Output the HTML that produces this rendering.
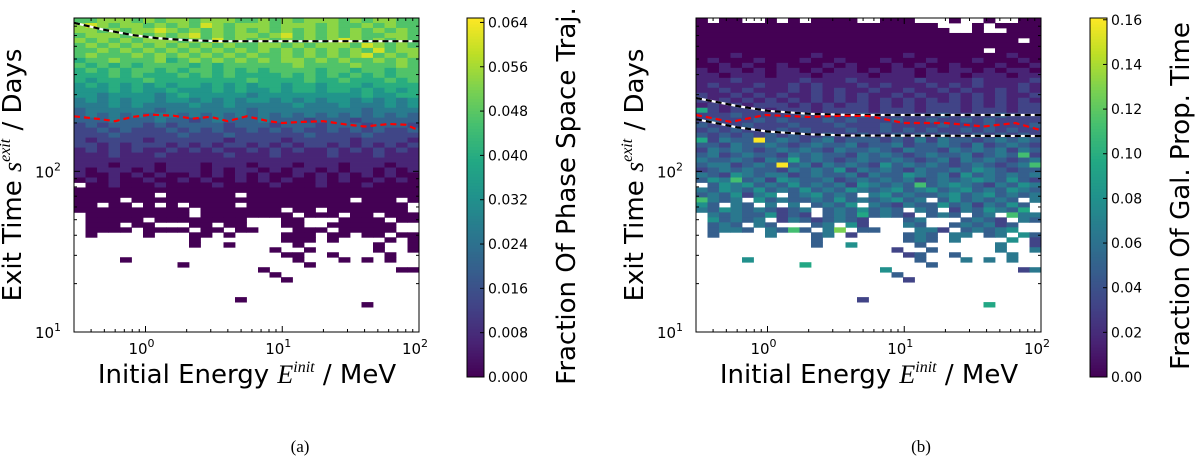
<!DOCTYPE html>
<html><head><meta charset="utf-8">
<style>
html,body{margin:0;padding:0;background:#fff;}
svg{display:block;font-family:"DejaVu Sans","Liberation Sans",sans-serif;}
</style></head>
<body>
<svg id="fig" width="1200" height="461" viewBox="0 0 1200 461" xmlns="http://www.w3.org/2000/svg"></svg>
<script>
// ---------- data ----------
const xTickValues = [1, 10, 100];
const xTickExps = ["0", "1", "2"];
const yTickValues = [10, 100];
const yTickExps = ["1", "2"];
const cbTicksLeft = [0.000, 0.008, 0.016, 0.024, 0.032, 0.040, 0.048, 0.056, 0.064];
const cbLabelsLeft = ["0.000","0.008","0.016","0.024","0.032","0.040","0.048","0.056","0.064"];
const cbTicksRight = [0.00, 0.02, 0.04, 0.06, 0.08, 0.10, 0.12, 0.14, 0.16];
const cbLabelsRight = ["0.00","0.02","0.04","0.06","0.08","0.10","0.12","0.14","0.16"];
// heatmap rows, top (high exit time) to bottom; each char a level, '.' = empty
const leftRows = [
"778887878878887787878887878877","898788787879878887888787787877","887878898787878787878787878787",
"788878787897878878978787877887","878787888787978787878789878787","787878787878787788787888798787",
"778787878787878787878787879788","787778787878787877878787897878","677877786787878787887878778787",
"767676777767677777787777877787","676767767677676767777677677677","666767666767676666767676767677",
"656666766666666766667667666767","565656565665656566566566656666","555656556555656556566566565656",
"554555545655555455555555565566","454545545545454554545455454545","444545444454454444454445444545",
"344444434444444344444444434444","343434344343434343434343434343","333433343323433343332333233333",
"232333232333323332333233323332","223232223232322323232232323223","222322222322232222223222232222",
"212222122222212222122222122221","221212221212122121212212121212","121212112121211212121121212121",
"111211121111121112111121112111","111111111111111111111111111111","111011101110111011101110111011",
"101110101110101101011010110101","100101010010101010010101010100","010100100101001010100101001010",
".00100010000100001000100010000","000000000000000000000000000000","0000000.000000.000000000000000",
"0000.0000000000000000000.000.0","00.00.0.0.0000.00000000000000.","0000000000.0000000.00.0000000.",
".000000000.00000000.000.00.000",".00000.00000000...00...0000.00",".000.00...00.00...00..000000..",
".0000.0000.00.00...000.00000..",".0....0...00.0....000.00.00.00","..........0.......000.0....0.0",
"..........0..0.....0......0..0",".................0..0.....0..0","..................00..0....0..",
"....0..............0...0.0.0..",".........0..........0.........","................0...........00",
".................0............","..................0...........","..............................",
"..............................","..............................","..............0...............",
".........................0....","..............................","..............................",
"..............................","..............................",".............................."
];
const rightRows = [
"0.00..0.0.0000..000...0..0..00","000000000000000000000...0.0000","0000000000000000000000..0..000",
"000000000000000000000000000000","0000000000000000000000000000.0","000000000000000000000000000000",
"0000000000000000000000000.0000","000100000010000000100000000100","010001000100100010001000100010",
"001010010001010001010010001001","101101011010110101101011010110","110111011101111011101110111011",
"111211111211121111121111211112","121112112121112121112121211121","112121112121211211211212112121",
"211212121121212112121121212112","21212 12121 21212 12121 21212 12121","12121 22212 12122 12121 22212 12122",
"62122 21222 12222 12221 22212 22122","22232 22223 22223 22222 23222 23222","23222 32322 23232 22322 32232 32222",
"32223 22232 22322 23222 23222 32223","23232 22323 22232 23232 32232 32322","32323 23232 23223 22323 23223 23232",
"62433 a3432 34233 32324 24332 34343","33243 34323 43342 33423 34324 23432","24343 23434 32433 43243 32434 34243",
"34234 33243 43324 34323 43342 34372","43343 24363 43234 33432 34243 43234","34423 43a34 24343 25343 43234 32347",
"23434 33243 43524 34324 33435 43233","43254 34423 43342 43354 34253 43434","35473 42543 34234 34342 34345 43532",
".3545 34353 43425 43437 34543 24354","43543 53435 34354 34534 53453 43543","34352 45.34 5343. 45343 34534 53434",
"7434. 53433 43534 34534 .3534 343.4","53.43 .4.4. 3435. 43243 35342 4353.","43543 43234 .3435 343.4 3.243 5436.",
".4343 35232 .3436 3432. 343.3 4.744",".5343 4.243 23432 ...34 ...34 32.43",".343. 43... 34.52 ...43 ..343 423..",
".3443 .4373 .48.3 3...4 42.34 345..",".3... .4... 34.2. ...34 3.44. 34.53","..........3.......343.4....5.2",
"..........3..5.....3......4..2",".................2..3.....4..4","..................23..3....4..",
"....5..............3...4.4.4..",".........6..........3.........","................5...........24",
".................3............","..................2...........","..............................",
"..............................","..............................","..............2...............",
".........................6....","..............................","..............................",
"..............................","..............................",".............................."
];
const leftLevelStep = 0.0067;   // value per level, panel (a)
const rightLevelStep = 0.016;   // value per level, panel (b)
// curves: energies (MeV) and exit times (days)
const aBlackE = [0.3, 0.5, 0.8, 1.2, 2, 3.5, 10, 100];
const aBlackD = [840, 760, 705, 675, 655, 645, 645, 645];
const aRedE = [0.3, 0.45, 0.6, 0.8, 1.1, 1.6, 2.2, 3, 4, 5.5, 8, 10, 14, 20, 30, 40, 60, 80, 100];
const aRedD = [220, 212, 205, 218, 225, 222, 213, 218, 205, 220, 205, 200, 203, 205, 195, 190, 197, 195, 180];
const bUpperE = [0.3, 0.6, 1, 2, 4, 100];
const bUpperD = [286, 255, 238, 228, 224, 224];
const bLowerE = [0.3, 0.6, 1, 2, 4, 100];
const bLowerD = [211, 188, 177, 170, 167, 166];
const bRedE = [0.3, 0.54, 0.96, 2, 3.5, 5.5, 9.9, 20, 38, 65, 100];
const bRedD = [224, 203, 224, 218, 222, 221, 200, 200, 190, 200, 180];

// ---------- helpers ----------
const NS = "http://www.w3.org/2000/svg";
const svg = document.getElementById("fig");
function mk(tag, attrs, parent) {
  const e = document.createElementNS(NS, tag);
  for (const k in attrs) e.setAttribute(k, attrs[k]);
  (parent || svg).appendChild(e);
  return e;
}
const VIR = ["#440154","#482475","#414487","#355f8d","#2a788e","#21918c","#22a884","#44bf70","#7ad151","#bddf26","#fde725"];
function hex(h){return [parseInt(h.slice(1,3),16),parseInt(h.slice(3,5),16),parseInt(h.slice(5,7),16)];}
function viridis(t){
  t = Math.max(0, Math.min(1, t));
  const p = t * 10, i = Math.min(9, Math.floor(p)), f = p - i;
  const a = hex(VIR[i]), b = hex(VIR[i+1]);
  return "rgb(" + a.map((v,k)=>Math.round(v + (b[k]-v)*f)).join(",") + ")";
}
const E0 = Math.log10(0.3), E1 = 2, D0 = 1, D1 = Math.log10(900);
const PT = 18, PB = 332, PW = 345;
function xs(x0){ return E => x0 + (Math.log10(E) - E0) / (E1 - E0) * PW; }
function ys(D){ return PB - (Math.log10(D) - D0) / (D1 - D0) * (PB - PT); }

function panel(x0, rows, step, vmax, cbx, cbTicks, cbLabels, cbTitle, cbTitleOff, tag, curves, capX) {
  const xsc = xs(x0);
  const g = mk("g", {});
  
  
  const hm = mk("g", {}, g);
  
  
  const nR = rows.length;
  const lb = (D1 - D0) / nR;
  rows.forEach((rs, r) => {
    const s = rs.replace(/ /g, "");
    const nC = 30, lw = (E1 - E0) / nC;
    for (let c = 0; c < nC; c++) {
      const ch = s[c];
      if (!ch || ch === ".") continue;
      const lvl = ch === "a" ? 10 : parseInt(ch, 10);
      const v = lvl * step;
      const xa = xsc(Math.pow(10, E0 + c * lw)), xb = xsc(Math.pow(10, E0 + (c + 1) * lw));
      const ya = ys(Math.pow(10, D1 - r * lb)), yb = ys(Math.pow(10, D1 - (r + 1) * lb));
      const rect = mk("rect", {x: xa, y: ya, width: xb - xa + 0.4, height: yb - ya + 0.4, fill: viridis(v / vmax)}, hm);
      
      
    }
  });
  // curves
  curves.forEach(cv => {
    const d = cv.E.map((e, i) => (i ? "L" : "M") + xsc(e).toFixed(1) + "," + ys(cv.D[i]).toFixed(1)).join(" ");
    if (cv.type === "bw") {
      const w = mk("path", {d, fill: "none", stroke: "#fff", "stroke-width": 2.2}, g);
      
      
      const b = mk("path", {d, fill: "none", stroke: "#000", "stroke-width": 2.2, "stroke-dasharray": "6,4"}, g);
      
      
    } else {
      const p = mk("path", {d, fill: "none", stroke: "#f00", "stroke-width": 2.2, "stroke-dasharray": "6,4"}, g);
      
      
    }
  });
  // frame
  const fr = mk("rect", {x: x0, y: PT, width: PW, height: PB - PT, fill: "none", stroke: "#000", "stroke-width": 1}, g);
  
  
  // x ticks
  for (let dec = -1; dec <= 1; dec++) {
    for (let m = 1; m <= 9; m++) {
      const E = m * Math.pow(10, dec);
      if (E < 0.3 || E > 100) continue;
      const len = m === 1 ? 6 : 3;
      const x = xsc(E);
      const t = mk("line", {x1: x, y1: PB, x2: x, y2: PB - len, stroke: "#000", "stroke-width": 1}, g);
      
      
      const t2 = mk("line", {x1: x, y1: PT, x2: x, y2: PT + len, stroke: "#000", "stroke-width": 1}, g);
      
      
    }
  }
  xTickValues.forEach((v, i) => {
    const tx = mk("text", {x: xsc(v) - 4, y: 354, "font-size": 15, "text-anchor": "middle"}, g);
    
    
    tx.textContent = "10";
    const sp = mk("tspan", {dy: -7, "font-size": 11}, tx);
    sp.textContent = xTickExps[i];
  });
  // y ticks
  for (let dec = 1; dec <= 2; dec++) {
    for (let m = 1; m <= 9; m++) {
      const D = m * Math.pow(10, dec);
      if (D > 900) continue;
      const len = m === 1 ? 6 : 3;
      const y = ys(D);
      const t = mk("line", {x1: x0, y1: y, x2: x0 + len, y2: y, stroke: "#000", "stroke-width": 1}, g);
      
      
      const t2 = mk("line", {x1: x0 + PW, y1: y, x2: x0 + PW - len, y2: y, stroke: "#000", "stroke-width": 1}, g);
      
      
    }
  }
  yTickValues.forEach((v, i) => {
    const tx = mk("text", {x: x0 - 26, y: ys(v) + 6, "font-size": 15, "text-anchor": "middle"}, g);
    
    
    tx.textContent = "10";
    const sp = mk("tspan", {dy: -7, "font-size": 11}, tx);
    sp.textContent = yTickExps[i];
  });
  // axis labels
  const xl = mk("text", {x: x0 + 173, y: 383, "font-size": 26, "text-anchor": "middle"}, g);
  
  
  xl.innerHTML = 'Initial Energy <tspan font-family="Liberation Serif, serif" font-style="italic">E</tspan><tspan font-family="Liberation Serif, serif" font-style="italic" font-size="16" dy="-11">init</tspan><tspan dy="11">  / MeV</tspan>';
  const ylx = x0 - 53;
  const yl = mk("text", {x: ylx, y: 175, "font-size": 26, "text-anchor": "middle", transform: "rotate(-90 " + ylx + " 175)"}, g);
  
  
  yl.innerHTML = 'Exit Time <tspan font-family="Liberation Serif, serif" font-style="italic">s</tspan><tspan font-family="Liberation Serif, serif" font-style="italic" font-size="16" dy="-11">exit</tspan><tspan dy="11">  / Days</tspan>';
  // colorbar
  const cb = mk("g", {}, g);
  
  
  const cT = 18, cB = 377, cW = 17, N = 120;
  for (let i = 0; i < N; i++) {
    const y = cB - (i + 1) * (cB - cT) / N;
    mk("rect", {x: cbx, y: y, width: cW, height: (cB - cT) / N + 0.5, fill: viridis((i + 0.5) / N)}, cb);
  }
  mk("rect", {x: cbx, y: cT, width: cW, height: cB - cT, fill: "none", stroke: "#000", "stroke-width": 1}, cb);
  cbTicks.forEach((v, i) => {
    const y = cB - v / vmax * (cB - cT);
    const tl = mk("line", {x1: cbx + cW, y1: y, x2: cbx + cW - 4, y2: y, stroke: "#000", "stroke-width": 1}, cb);
    
    
    const tx = mk("text", {x: cbx + cW + 4, y: y + 5, "font-size": 14}, cb);
    
    
    tx.textContent = cbLabels[i];
  });
  const ctx = cbx + cbTitleOff;
  const ct = mk("text", {x: ctx, y: 196, "font-size": 26, "text-anchor": "middle", transform: "rotate(-90 " + ctx + " 196)"}, cb);
  
  
  ct.textContent = cbTitle;
  // caption
  const cap = mk("text", {x: capX, y: 452, "font-size": 17, "text-anchor": "middle", "font-family": "Liberation Serif, serif"}, g);
  
  
  cap.textContent = "(" + tag + ")";
}

panel(74, leftRows, leftLevelStep, 0.0648, 467, cbTicksLeft, cbLabelsLeft, "Fraction Of Phase Space Traj.", 108, "a",
  [{E: aBlackE, D: aBlackD, type: "bw", name: "black-dashed-curve"},
   {E: aRedE, D: aRedD, type: "red", name: "red-dashed-curve"}], 300);
panel(696, rightRows, rightLevelStep, 0.1608, 1090, cbTicksRight, cbLabelsRight, "Fraction Of Gal. Prop. Time", 99, "b",
  [{E: bUpperE, D: bUpperD, type: "bw", name: "upper-black-dashed-curve"},
   {E: bLowerE, D: bLowerD, type: "bw", name: "lower-black-dashed-curve"},
   {E: bRedE, D: bRedD, type: "red", name: "red-dashed-curve"}], 921);
</script>
</body></html>
